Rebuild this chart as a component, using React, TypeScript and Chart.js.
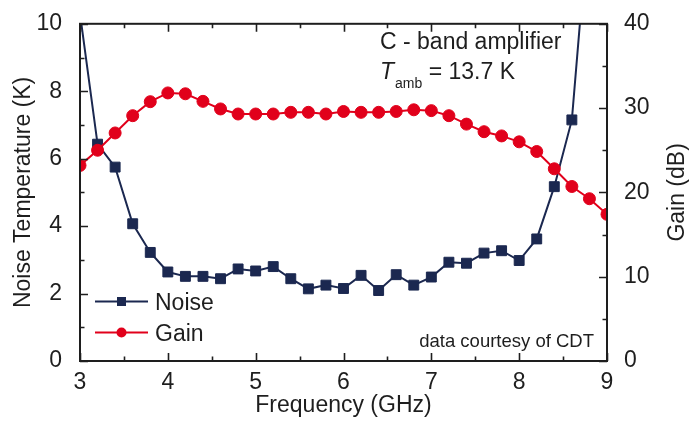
import React, { useEffect, useRef } from "react";
import { Chart, registerables } from "chart.js";

Chart.register(...registerables);

// ---- data ----
const frequencyGHz = [
  3.0, 3.2, 3.4, 3.6, 3.8, 4.0, 4.2, 4.4, 4.6, 4.8, 5.0, 5.2, 5.4, 5.6, 5.8, 6.0,
  6.2, 6.4, 6.6, 6.8, 7.0, 7.2, 7.4, 7.6, 7.8, 8.0, 8.2, 8.4, 8.6, 8.8, 9.0,
];
const noiseK: (number | null)[] = [
  10.3, 6.43, 5.75, 4.07, 3.22, 2.64, 2.51, 2.51, 2.44, 2.73, 2.67, 2.8, 2.44, 2.14,
  2.25, 2.15, 2.54, 2.09, 2.56, 2.25, 2.49, 2.93, 2.9, 3.2, 3.27, 2.98, 3.62, 5.17,
  7.15, 13.4, null,
];
const gainDb = [
  23.2, 25.0, 27.05, 29.1, 30.76, 31.8, 31.7, 30.8, 29.9, 29.3, 29.3, 29.3, 29.5,
  29.5, 29.3, 29.6, 29.5, 29.5, 29.6, 29.8, 29.7, 29.1, 28.1, 27.2, 26.7, 26.0,
  24.85, 22.8, 20.7, 19.25, 17.4,
];
const seriesLabels = ["Noise", "Gain"];
const xTickRange = [3, 9];
const noiseTickRange = [0, 10];
const gainTickRange = [0, 40];
const titleText = "C - band amplifier";
const ambientLabel = ["T", "amb", " = 13.7 K"];
const creditText = "data courtesy of CDT";

const NAVY = "#1b2850";
const RED = "#e1001b";
const INK = "#1e1e1e";
const FONT = "'Liberation Sans', Arial, Helvetica, sans-serif";

const framePlugin = {
  id: "frameAndDecor",
  afterDatasetsDraw(chart: any) {
    const { ctx, chartArea: a, scales } = chart;
    const x = scales.x;
    const y = scales.y;
    const y2 = scales.y2;
    ctx.save();
    ctx.strokeStyle = INK;
    ctx.lineWidth = 2;
    ctx.strokeRect(a.left, a.top, a.right - a.left, a.bottom - a.top);
    ctx.lineWidth = 1.6;
    ctx.beginPath();
    for (let v = xTickRange[0]; v <= xTickRange[1] + 1e-9; v += 0.5) {
      const px = Math.round(x.getPixelForValue(v)) + 0.5;
      const len = Math.abs(v - Math.round(v)) < 1e-9 ? 8 : 4.5;
      ctx.moveTo(px, a.bottom);
      ctx.lineTo(px, a.bottom - len);
      ctx.moveTo(px, a.top);
      ctx.lineTo(px, a.top + len);
    }
    for (let v = noiseTickRange[0]; v <= noiseTickRange[1] + 1e-9; v += 1) {
      const py = Math.round(y.getPixelForValue(v)) + 0.5;
      const len = v % 2 === 0 ? 8 : 4.5;
      ctx.moveTo(a.left, py);
      ctx.lineTo(a.left + len, py);
    }
    for (let v = gainTickRange[0]; v <= gainTickRange[1] + 1e-9; v += 5) {
      const py = Math.round(y2.getPixelForValue(v)) + 0.5;
      const len = v % 10 === 0 ? 8 : 4.5;
      ctx.moveTo(a.right, py);
      ctx.lineTo(a.right - len, py);
    }
    ctx.stroke();

    // right axis title (reads bottom-to-top)
    ctx.fillStyle = INK;
    ctx.font = `23px ${FONT}`;
    ctx.save();
    ctx.translate(678, (a.top + a.bottom) / 2);
    ctx.rotate(-Math.PI / 2);
    ctx.textAlign = "center";
    ctx.textBaseline = "middle";
    ctx.fillText("Gain (dB)", 0, 0);
    ctx.restore();

    // legend
    const ds = chart.data.datasets;
    const legendRows = [a.bottom - 59.5, a.bottom - 28.5];
    ds.forEach((d: any, i: number) => {
      const ly = legendRows[i];
      const lx0 = a.left + 15;
      const lx1 = a.left + 68;
      ctx.strokeStyle = d.borderColor;
      ctx.lineWidth = 2;
      ctx.beginPath();
      ctx.moveTo(lx0, ly);
      ctx.lineTo(lx1, ly);
      ctx.stroke();
      ctx.fillStyle = d.pointBackgroundColor;
      const cx = (lx0 + lx1) / 2;
      if (d.pointStyle === "rect") {
        ctx.fillRect(cx - 4.5, ly - 4.5, 9, 9);
      } else {
        ctx.beginPath();
        ctx.arc(cx, ly, 5, 0, Math.PI * 2);
        ctx.fill();
      }
      ctx.fillStyle = INK;
      ctx.font = `23px ${FONT}`;
      ctx.textAlign = "left";
      ctx.textBaseline = "alphabetic";
      ctx.fillText(d.label, a.left + 75, ly + 8);
    });

    // annotations
    ctx.fillStyle = INK;
    ctx.textAlign = "left";
    ctx.textBaseline = "alphabetic";
    ctx.font = `23px ${FONT}`;
    const tx = a.left + 300;
    ctx.fillText(titleText, tx, 49);
    ctx.font = `italic 23px ${FONT}`;
    ctx.fillText(ambientLabel[0], tx, 79);
    let cur = tx + ctx.measureText(ambientLabel[0]).width + 1;
    ctx.font = `14px ${FONT}`;
    ctx.fillText(ambientLabel[1], cur, 88);
    cur += ctx.measureText(ambientLabel[1]).width;
    ctx.font = `23px ${FONT}`;
    ctx.fillText(ambientLabel[2], cur, 79);

    ctx.font = `18.5px ${FONT}`;
    ctx.textAlign = "right";
    ctx.fillText(creditText, a.right - 13, a.bottom - 14.3);
    ctx.restore();
  },
};

export default function App() {
  const canvasRef = useRef<HTMLCanvasElement | null>(null);

  useEffect(() => {
    if (!canvasRef.current) return;
    const noisePts = frequencyGHz.map((f, i) => ({ x: f, y: noiseK[i] }));
    const gainPts = frequencyGHz.map((f, i) => ({ x: f, y: gainDb[i] }));
    const chart = new Chart(canvasRef.current, {
      type: "line",
      data: {
        datasets: [
          {
            label: seriesLabels[0],
            data: noisePts as any,
            yAxisID: "y",
            borderColor: NAVY,
            backgroundColor: NAVY,
            pointBackgroundColor: NAVY,
            pointBorderColor: NAVY,
            pointStyle: "rect",
            pointRadius: 7,
            pointBorderWidth: 1,
            borderWidth: 2,
            tension: 0,
            order: 1,
          },
          {
            label: seriesLabels[1],
            data: gainPts as any,
            yAxisID: "y2",
            borderColor: RED,
            backgroundColor: RED,
            pointBackgroundColor: RED,
            pointBorderColor: RED,
            pointStyle: "circle",
            pointRadius: 6,
            pointBorderWidth: 1,
            borderWidth: 2,
            tension: 0,
            order: 0,
          },
        ],
      },
      options: {
        responsive: false,
        animation: false,
        layout: { padding: { top: 16, left: 0, right: 0, bottom: 0 } },
        plugins: {
          legend: { display: false },
          tooltip: { enabled: false },
        },
        scales: {
          x: {
            type: "linear",
            position: "bottom",
            min: xTickRange[0],
            max: xTickRange[1],
            grid: { display: false },
            border: { display: false },
            ticks: {
              stepSize: 1,
              color: INK,
              padding: 0,
              font: { family: FONT, size: 23 },
            },
            title: {
              display: true,
              text: "Frequency (GHz)",
              color: INK,
              font: { family: FONT, size: 23 },
              padding: { top: 0, bottom: 7 },
            },
            afterFit: (s: any) => {
              s.height = 65;
            },
          },
          y: {
            type: "linear",
            position: "left",
            min: noiseTickRange[0],
            max: noiseTickRange[1],
            grid: { display: false },
            border: { display: false },
            ticks: {
              stepSize: 2,
              color: INK,
              padding: 10,
              font: { family: FONT, size: 23 },
            },
            title: {
              display: true,
              text: "Noise Temperature (K)",
              color: INK,
              font: { family: FONT, size: 23 },
              padding: { top: 10, bottom: 0 },
            },
            afterFit: (s: any) => {
              s.width = 80;
            },
          },
          y2: {
            type: "linear",
            position: "right",
            min: gainTickRange[0],
            max: gainTickRange[1],
            grid: { display: false },
            border: { display: false },
            ticks: {
              stepSize: 10,
              color: INK,
              padding: 9,
              font: { family: FONT, size: 23 },
            },
            afterFit: (s: any) => {
              s.width = 87;
            },
          },
        },
      },
      plugins: [framePlugin],
    });
    return () => chart.destroy();
  }, []);

  return (
    <div style={{ position: "absolute", left: 0, top: 0, width: 694, height: 426, background: "#fff" }}>
      <canvas ref={canvasRef} width={694} height={426} style={{ display: "block" }} />
    </div>
  );
}
